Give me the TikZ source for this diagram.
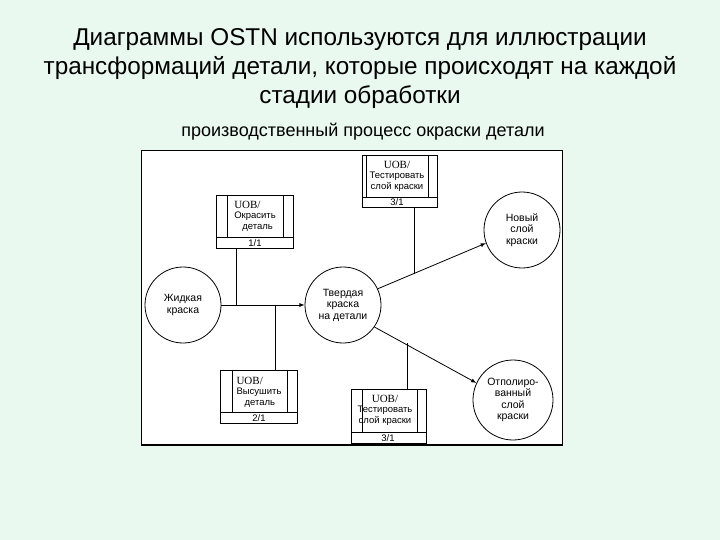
\documentclass[tikz,border=0pt]{standalone}
\usepackage{fontspec}
\setmainfont{Liberation Sans}
\newfontfamily\serifuob{Liberation Serif}
\begin{document}
\begin{tikzpicture}[x=1pt,y=-1pt,
 circ/.style={draw,circle,minimum size=76pt,inner sep=0pt,align=center,font=\fontsize{10.5}{11.5}\selectfont,line width=0.8pt},
 ln/.style={line width=0.8pt},
 arr/.style={ln,-latex},
 lbl/.style={font=\fontsize{9.5}{10.5}\selectfont,align=center,inner sep=0pt}]
\fill[fill={rgb,255:red,234;green,249;blue,240}] (0,0) rectangle (720,540);
\useasboundingbox (0,0) rectangle (720,540);
\node[align=center,font=\fontsize{24.3}{29}\selectfont] (title) at (360,69) {Диаграммы OSTN используются для иллюстрации\\трансформаций детали, которые происходят на каждой\\стадии обработки};
\node[font=\fontsize{18}{19}\selectfont] (sub) at (363,132) {производственный процесс окраски детали};
\filldraw[fill=white,line width=0.8pt] (141,150) rectangle (562,445);
\draw[line width=2pt] (141,445) -- (562,445);
% box 1 top test
\draw[ln] (362,155) rectangle (437,207); \draw[ln] (362,197) -- (437,197);
\draw (366,155) -- (366,197) (428,155)--(428,197);
\node[lbl] (b1) at (397,176) {{\serifuob\fontsize{11}{11}\selectfont UOB/}\\Тестировать\\слой краски};
\node[lbl] (b1n) at (397,202) {3/1};
% box 2 Окрасить
\draw[ln] (216,195) rectangle (293,248); \draw[ln] (216,237) -- (293,237);
\draw (227,195) -- (227,237) (283,195)--(283,237);
\node[lbl,align=left] (b2) at (255,216) {{\serifuob\fontsize{11}{11}\selectfont UOB/}\\Окрасить\\\hspace*{8pt}деталь};
\node[lbl] (b2n) at (255,243) {1/1};
% box 3 Высушить
\draw[ln] (220,370) rectangle (297,423); \draw[ln] (220,412) -- (297,412);
\draw (232,370) -- (232,412) (287,370)--(287,412);
\node[lbl,align=left] (b3) at (259,392) {{\serifuob\fontsize{11}{11}\selectfont UOB/}\\Высушить\\\hspace*{8pt}деталь};
\node[lbl] (b3n) at (259,418) {2/1};
% box 4 bottom test
\draw[ln] (351,389) rectangle (426,443); \draw[ln] (351,432) -- (426,432);
\draw (362,389) -- (362,432) (417,389)--(417,432);
\node[lbl] (b4) at (385,410) {{\serifuob\fontsize{11}{11}\selectfont UOB/}\\Тестировать\\слой краски};
\node[lbl] (b4n) at (388,438) {3/1};
% circles
\node[circ] (liq) at (183,305) {Жидкая\\краска};
\node[circ] (solid) at (343,305) {Твердая\\краска\\на детали};
\node[circ] (new) at (522,230) {Новый\\слой\\краски};
\node[circ,minimum size=80pt] (pol) at (513,400) {Отполиро-\\ванный\\слой\\краски};
% connectors
\draw[arr] (liq.east) -- (solid.west);
\coordinate (j1) at (236,305);
\coordinate (j2) at (275,305);
\draw[ln] (236,248) -- (j1);
\draw[ln] (275,370) -- (j2);
\draw[arr] (solid.25) -- (new.200);
\coordinate (j3) at (414,274);
\draw[ln] (414,207) -- (j3);
\draw[arr] (solid.-35) -- (pol.155);
\coordinate (j4) at (407,343);
\draw[ln] (407,389) -- (j4);
\end{tikzpicture}
\end{document}
